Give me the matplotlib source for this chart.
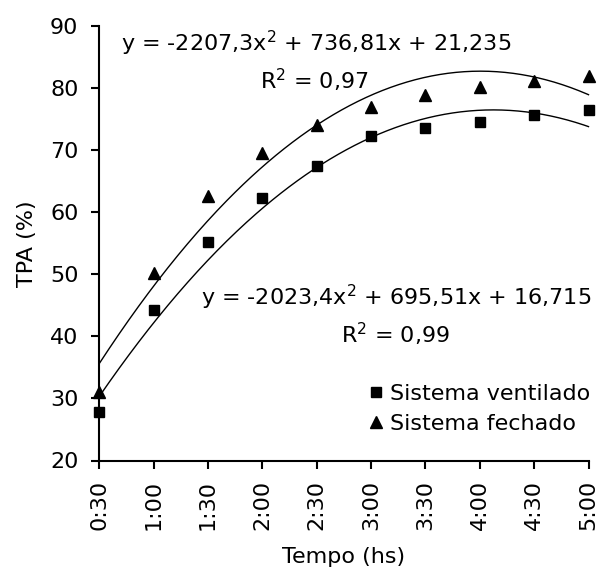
import numpy as np
import matplotlib
matplotlib.use("Agg")
import matplotlib.pyplot as plt
from matplotlib.lines import Line2D

plt.rcParams['font.family'] = ['DejaVu Sans']
FS = 16

# Sampling times (h:mm) and their value in hours
tick_labels = ["0:30", "1:00", "1:30", "2:00", "2:30", "3:00", "3:30", "4:00", "4:30", "5:00"]
hours = [0.5, 1.0, 1.5, 2.0, 2.5, 3.0, 3.5, 4.0, 4.5, 5.0]

# TPA (%) observed
ventilado = [27.8, 44.2, 55.2, 62.3, 67.4, 72.2, 73.6, 74.5, 75.7, 76.4]
fechado = [31.1, 50.2, 62.6, 69.5, 74.1, 76.9, 78.9, 80.1, 81.2, 81.9]

# Quadratic fit coefficients (a, b, c) for y = a*x^2 + b*x + c, x in days
fit_fechado = (-2207.3, 736.81, 21.235)
fit_ventilado = (-2023.4, 695.51, 16.715)
r2_fechado = "0,97"
r2_ventilado = "0,99"

x_days = np.array(hours) / 24.0

W, H = 601, 570
fig = plt.figure(figsize=(W / 100, H / 100), dpi=100)
left, right, top, bottom = 99.3, 588.5, 26.0, 460.5
ax = fig.add_axes([left / W, 1 - bottom / H, (right - left) / W, (bottom - top) / H])

xs = np.linspace(x_days[0], x_days[-1], 300)
for a, b, c in (fit_fechado, fit_ventilado):
    ax.plot(xs, a * xs**2 + b * xs + c, color='black', lw=1.0, clip_on=False)

ax.plot(x_days, ventilado, ls='none', marker='s', ms=7.6, color='black', clip_on=False, zorder=3)
ax.plot(x_days, fechado, ls='none', marker='^', ms=9.3, color='black', clip_on=False, zorder=3)

ax.set_xlim(x_days[0], x_days[-1])
ax.set_ylim(20, 90)
ax.set_xticks(x_days)
ax.set_xticklabels(tick_labels, rotation=90, fontsize=FS)
ax.set_yticks(range(20, 91, 10))
ax.tick_params(axis='y', labelsize=FS, length=6, width=1.5, direction='out', pad=9)
ax.tick_params(axis='x', length=6, width=1.5, direction='out', pad=8)
for s in ('top', 'right'):
    ax.spines[s].set_visible(False)
for s in ('left', 'bottom'):
    ax.spines[s].set_linewidth(1.5)

ax.set_ylabel("TPA (%)", fontsize=FS, labelpad=9)
ax.set_xlabel("Tempo (hs)", fontsize=FS, labelpad=12)


def eq_text(coefs):
    a, b, c = coefs
    f = lambda v: f"{v}".replace('.', ',')
    return f"y = {f(a)}x$^2$ + {f(b)}x + {f(c)}"


def d(h):
    return h / 24.0


ax.text(d(0.70), 87.2, eq_text(fit_fechado), fontsize=FS, va='center', ha='left')
ax.text(d(2.48), 81.3, f"R$^2$ = {r2_fechado}", fontsize=FS, va='center', ha='center')
ax.text(d(1.44), 46.2, eq_text(fit_ventilado), fontsize=FS, va='center', ha='left')
ax.text(d(3.22), 40.3, f"R$^2$ = {r2_ventilado}", fontsize=FS, va='center', ha='center')

handles = [Line2D([], [], ls='none', marker='s', ms=7.6, color='black'),
           Line2D([], [], ls='none', marker='^', ms=9.3, color='black')]
ax.legend(handles, ["Sistema ventilado", "Sistema fechado"], loc='center left',
          bbox_to_anchor=(369.0 / W, 1 - 408.5 / H), bbox_transform=fig.transFigure,
          frameon=False, fontsize=FS, handlelength=0.6, handletextpad=0.35,
          labelspacing=0.45, borderpad=0, borderaxespad=0)

fig.savefig("out.png", dpi=100)
